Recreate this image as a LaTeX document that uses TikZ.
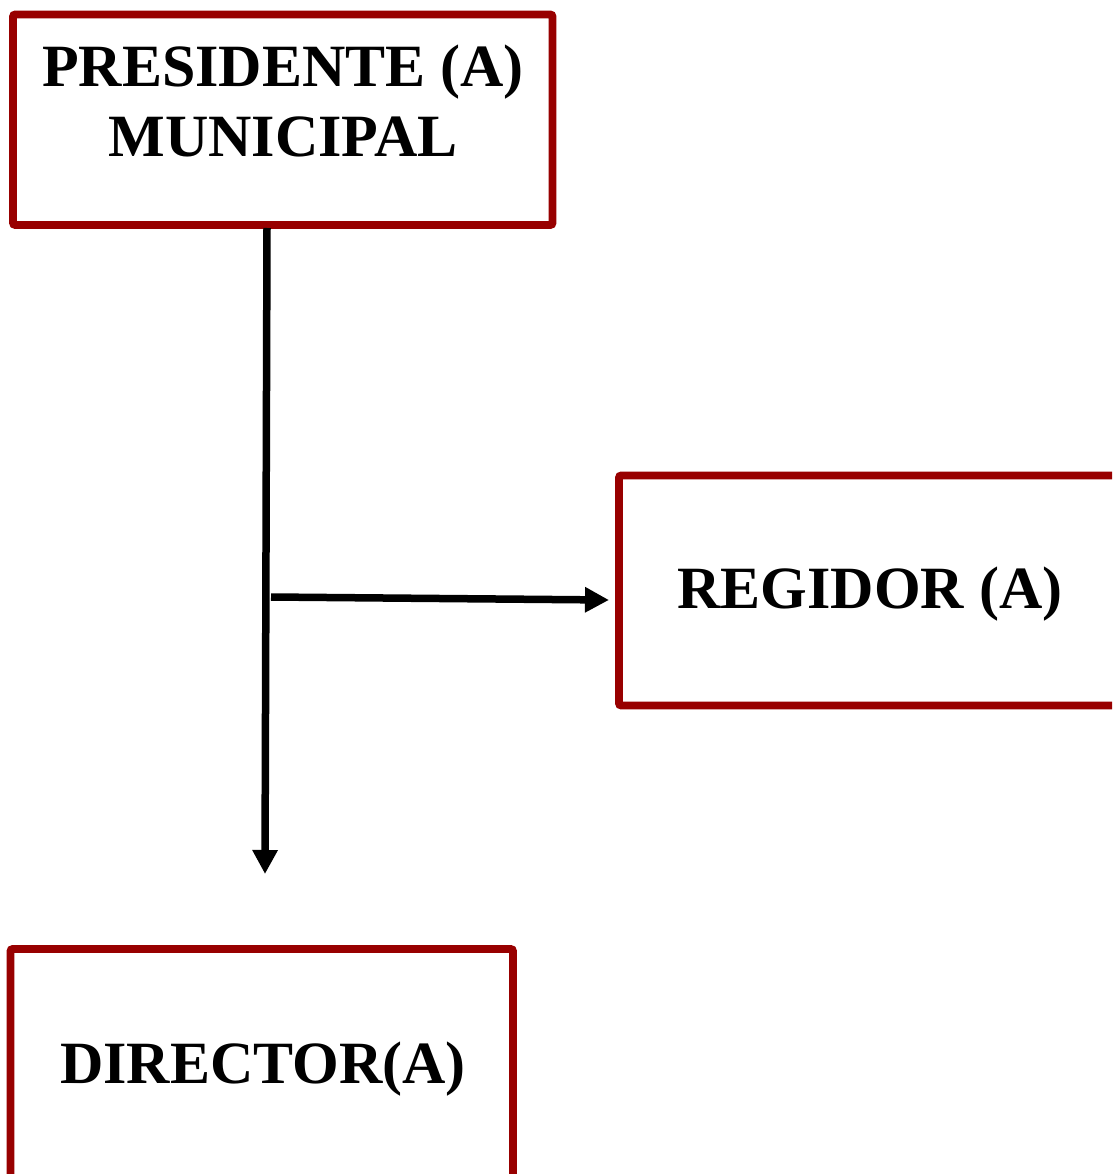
\documentclass[tikz,border=0pt]{standalone}
\usepackage{fontspec}
\setmainfont{Liberation Serif}
\usetikzlibrary{arrows.meta}
\definecolor{boxred}{RGB}{152,0,0}
\begin{document}
\begin{tikzpicture}[x=1pt,y=-1pt,
  orgbox/.style={draw=boxred,line width=7.6pt,rounded corners=2pt,fill=white,inner sep=0pt},
  orgtext/.style={font=\bfseries\fontsize{60}{70}\selectfont,align=center,inner sep=0pt,text=black},
  conn/.style={line width=7.5pt,draw=black,-{Triangle[length=24pt,width=24pt]}}]
\useasboundingbox (0,0) rectangle (1112,1174);
\clip (0,0) rectangle (1112,1174);
\fill[white] (0,0) rectangle (1112,1174);
% boxes
\node[orgbox,minimum width=539.5pt,minimum height=210.5pt] (pres) at (282.75,119.75) {};
\node[orgbox,minimum width=520pt,minimum height=230pt] (reg) at (879,590.5) {};
\node[orgbox,minimum width=502.5pt,minimum height=260pt] (dir) at (261.75,1079) {};
% texts
\node[orgtext] (prestext) at (283,100.5) {PRESIDENTE (A)\\MUNICIPAL};
\node[orgtext] (regtext) at (870,594) {REGIDOR (A)};
\node[orgtext] (dirtext) at (263,1069) {DIRECTOR(A)};
% connectors
\coordinate (vtop) at (267,228);
\coordinate (vend) at (265,874);
\coordinate (hstart) at (271,597);
\coordinate (hend) at (609,600);
\draw[conn] (vtop) -- (vend);
\draw[conn] (hstart) -- (hend);
\end{tikzpicture}
\end{document}
